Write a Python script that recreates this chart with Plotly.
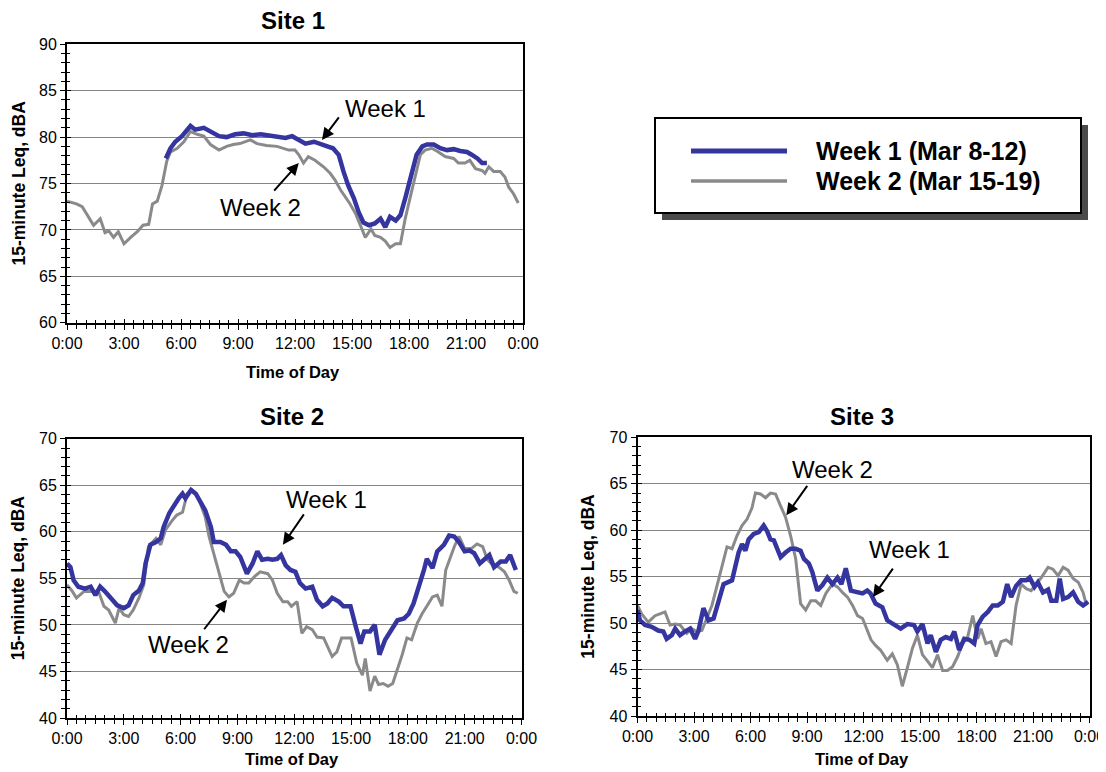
import plotly.graph_objects as go

# ---------------- data (hours of day, 15-minute Leq dBA) ----------------
s1_w1_t = [5.2, 5.45, 5.7, 6.05, 6.5, 6.75, 7.2, 7.55, 8.0, 8.4, 8.85, 9.3, 9.75, 10.2, 10.6, 11.05,
           11.5, 11.85, 12.2, 12.55, 13.0, 13.35, 13.7, 14.0, 14.3, 14.55, 14.8, 15.1, 15.35, 15.6,
           15.9, 16.2, 16.5, 16.75, 17.0, 17.3, 17.55, 17.8, 18.05, 18.4, 18.7, 18.95, 19.3, 19.65,
           20.0, 20.35, 20.7, 21.05, 21.3, 21.6, 21.85, 22.1]
s1_w1_v = [77.7, 78.8, 79.5, 80.1, 81.2, 80.8, 81.0, 80.6, 80.1, 80.0, 80.3, 80.4, 80.2, 80.3, 80.2, 80.1,
           79.9, 80.1, 79.7, 79.3, 79.5, 79.2, 79.0, 78.8, 78.1, 76.3, 74.8, 73.4, 71.9, 70.8,
           70.5, 70.7, 71.2, 70.3, 71.4, 71.0, 71.6, 73.4, 75.5, 78.1, 79.0, 79.2, 79.2, 78.8,
           78.6, 78.7, 78.5, 78.4, 78.1, 77.7, 77.2, 77.2]

s1_w2_t = [0.0, 0.5, 0.8, 1.05, 1.4, 1.75, 2.0, 2.2, 2.45, 2.7, 3.0, 3.35, 3.7, 4.0, 4.3, 4.5, 4.75,
           5.0, 5.25, 5.45, 5.8, 6.15, 6.5, 6.85, 7.2, 7.55, 8.0, 8.4, 8.75, 9.1, 9.65, 10.0, 10.5,
           11.05, 11.4, 11.67, 12.0, 12.2, 12.45, 12.7, 13.05, 13.5, 13.85, 14.1, 14.4, 14.65, 14.9,
           15.2, 15.45, 15.7, 16.0, 16.2, 16.5, 16.75, 17.0, 17.3, 17.55, 17.8, 18.05, 18.3, 18.6,
           18.85, 19.2, 19.55, 19.9, 20.35, 20.6, 20.95, 21.2, 21.5, 21.85, 22.0, 22.2, 22.45, 22.8,
           23.05, 23.25, 23.5, 23.75]
s1_w2_v = [73.1, 72.8, 72.5, 71.6, 70.5, 71.2, 69.7, 69.9, 69.2, 69.8, 68.5, 69.2, 69.8, 70.5, 70.6, 72.8, 73.1,
           74.8, 77.4, 78.4, 78.8, 79.5, 80.6, 80.3, 80.1, 79.2, 78.6, 79.0, 79.2, 79.3, 79.7, 79.3, 79.1,
           79.0, 78.8, 78.6, 78.6, 78.1, 77.2, 77.9, 77.5, 76.8, 76.1, 75.4, 74.3, 73.6, 72.8,
           71.7, 70.5, 69.2, 70.1, 69.4, 69.2, 68.8, 68.1, 68.5, 68.5, 71.2, 73.4, 75.5, 78.1,
           78.6, 78.8, 78.4, 77.9, 77.7, 77.2, 77.2, 77.5, 76.6, 76.4, 76.1, 76.8, 76.3, 76.3,
           75.7, 74.6, 73.9, 72.9]

s2_w1_t = [0.0, 0.18, 0.35, 0.6, 0.95, 1.25, 1.5, 1.75, 2.0, 2.3, 2.65, 3.0, 3.25, 3.5, 3.8, 4.0, 4.15,
           4.4, 4.7, 4.95, 5.1, 5.4, 5.65, 5.9, 6.1, 6.25, 6.55, 6.8, 7.05, 7.3, 7.6, 7.75, 8.1, 8.4,
           8.65, 8.9, 9.15, 9.5, 9.8, 10.05, 10.3, 10.6, 10.85, 11.1, 11.3, 11.55, 11.8, 12.06, 12.3,
           12.6, 12.95, 13.2, 13.5, 13.75, 14.0, 14.35, 14.6, 14.97, 15.25, 15.5, 15.7, 16.0, 16.25,
           16.5, 16.8, 17.1, 17.45, 17.8, 18.05, 18.3, 18.6, 18.85, 19.0, 19.3, 19.55, 19.9, 20.18,
           20.45, 20.7, 21.0, 21.25, 21.5, 21.8, 22.0, 22.3, 22.55, 22.9, 23.17, 23.4, 23.7]
s2_w1_v = [56.6, 56.2, 54.8, 54.1, 53.9, 54.1, 53.2, 54.1, 53.6, 52.9, 52.1, 51.8, 52.1, 53.2, 53.7, 54.5, 56.6,
           58.6, 58.9, 59.3, 60.5, 62.0, 62.9, 63.6, 64.1, 63.6, 64.5, 64.1, 63.2, 62.3, 60.5, 58.9, 58.9, 58.6,
           57.9, 57.9, 57.3, 55.5, 56.6, 57.9, 57.0, 57.1, 57.0, 57.1, 57.5, 56.4, 55.9, 55.7, 54.5,
           53.9, 54.1, 52.7, 52.0, 52.3, 52.9, 52.5, 52.0, 52.0, 49.8, 48.0, 49.3, 49.3, 50.0,
           46.8, 48.4, 49.3, 50.5, 50.7, 51.2, 52.3, 54.1, 55.9, 57.1, 56.1, 57.9, 58.6, 59.6,
           59.5, 58.9, 57.9, 58.0, 57.7, 56.6, 57.0, 57.5, 56.2, 56.8, 56.8, 57.5, 55.9]

s2_w2_t = [0.0, 0.25, 0.5, 0.9, 1.15, 1.4, 1.7, 1.95, 2.2, 2.55, 2.75, 3.0, 3.25, 3.5, 3.8, 4.05, 4.3,
           4.7, 4.95, 5.2, 5.55, 5.8, 6.1, 6.35, 6.6, 6.8, 7.05, 7.3, 7.5, 7.75, 8.0, 8.3, 8.55, 8.8,
           9.1, 9.35, 9.6, 9.9, 10.2, 10.6, 10.85, 11.1, 11.4, 11.65, 11.85, 12.15, 12.4, 12.65,
           12.95, 13.2, 13.55, 14.0, 14.25, 14.5, 14.8, 15.0, 15.3, 15.6, 15.75, 16.0, 16.25, 16.45,
           16.7, 16.95, 17.2, 17.45, 17.7, 17.95, 18.2, 18.5, 18.75, 19.0, 19.3, 19.55, 19.8, 20.0,
           20.25, 20.45, 20.7, 21.0, 21.35, 21.65, 21.95, 22.2, 22.5, 22.8, 23.1, 23.35, 23.6, 23.8]
s2_w2_v = [54.3, 53.7, 52.9, 53.6, 53.6, 53.6, 53.4, 52.0, 51.6, 50.2, 51.8, 51.1, 50.9, 51.6, 52.9, 54.3, 58.4,
           59.3, 58.6, 60.2, 61.2, 61.8, 62.1, 64.1, 64.5, 64.1, 63.0, 61.6, 59.5, 57.7, 55.9, 53.6, 53.0, 53.4,
           54.8, 54.5, 54.5, 55.2, 55.7, 55.5, 54.8, 53.4, 52.5, 52.5, 52.0, 52.5, 49.1, 49.8,
           49.5, 48.7, 48.6, 46.6, 47.1, 48.6, 48.6, 48.6, 45.9, 44.6, 46.4, 42.9, 44.5, 43.6,
           43.7, 43.4, 43.7, 45.2, 46.8, 48.6, 48.4, 50.2, 51.2, 52.0, 53.0, 53.2, 52.0, 55.9,
           57.3, 58.4, 59.5, 58.2, 58.2, 58.7, 58.4, 57.0, 56.4, 56.2, 55.7, 54.8, 53.6, 53.4]

s3_w1_t = [0.0, 0.13, 0.4, 0.75, 1.1, 1.37, 1.55, 1.82, 2.0, 2.26, 2.53, 2.8, 3.06, 3.24, 3.5, 3.77, 4.04,
           4.3, 4.57, 5.02, 5.2, 5.37, 5.55, 5.73, 5.9, 6.17, 6.44, 6.7, 6.88, 7.06, 7.24, 7.42, 7.6,
           7.86, 8.13, 8.4, 8.66, 8.84, 9.1, 9.28, 9.55, 9.82, 10.08, 10.35, 10.62, 10.83, 11.06, 11.33,
           11.68, 11.95, 12.2, 12.37, 12.64, 13.0, 13.26, 13.62, 13.97, 14.33, 14.68, 14.86, 15.13, 15.4,
           15.57, 15.84, 16.1, 16.37, 16.64, 16.82, 17.08, 17.35, 17.62, 17.88, 18.06, 18.33, 18.6, 18.86,
           19.13, 19.4, 19.63, 19.84, 20.1, 20.37, 20.64, 20.82, 21.08, 21.26, 21.53, 21.8, 21.97, 22.24,
           22.42, 22.6, 22.86, 23.13, 23.4, 23.66, 23.93]
s3_w1_v = [51.4, 50.3, 49.8, 49.6, 49.2, 49.1, 48.3, 48.7, 49.4, 48.7, 49.1, 49.4, 48.3, 49.2, 51.6, 50.3, 50.5,
           52.3, 54.2, 54.6, 56.2, 57.6, 58.5, 57.8, 59.0, 59.6, 59.8, 60.5, 59.9, 59.0, 58.9, 58.0, 57.1,
           57.6, 58.0, 58.0, 57.8, 56.9, 56.4, 55.5, 53.5, 54.1, 54.9, 54.2, 54.9, 54.2, 55.9, 53.5,
           53.3, 53.2, 53.5, 53.2, 52.1, 51.7, 50.3, 49.9, 49.4, 49.9, 49.8, 49.1, 49.9, 47.8,
           48.7, 46.9, 48.2, 48.5, 48.3, 49.1, 47.1, 48.3, 48.2, 47.8, 49.8, 50.7, 51.2, 51.9,
           51.9, 52.3, 54.2, 52.8, 54.0, 54.6, 54.6, 54.9, 53.9, 54.4, 53.3, 53.6, 52.4, 52.4,
           54.8, 52.6, 52.8, 53.3, 52.3, 51.9, 52.3]

s3_w2_t = [0.0, 0.22, 0.57, 0.93, 1.19, 1.46, 1.73, 2.0, 2.26, 2.62, 2.88, 3.15, 3.42, 3.68, 3.95, 4.22,
           4.48, 4.75, 5.02, 5.28, 5.55, 5.82, 6.08, 6.26, 6.53, 6.8, 7.06, 7.33, 7.6, 7.86, 8.13, 8.4,
           8.66, 8.93, 9.2, 9.46, 9.73, 10.0, 10.35, 10.62, 10.88, 11.15, 11.42, 11.68, 11.95, 12.2,
           12.4, 12.64, 12.9, 13.26, 13.53, 13.8, 14.06, 14.33, 14.6, 14.86, 15.13, 15.4, 15.66, 15.93,
           16.2, 16.46, 16.73, 17.0, 17.26, 17.53, 17.8, 18.06, 18.24, 18.5, 18.77, 19.04, 19.3, 19.57,
           19.84, 20.1, 20.37, 20.64, 20.9, 21.17, 21.44, 21.8, 22.06, 22.33, 22.6, 22.86, 23.13, 23.4,
           23.66, 23.84]
s3_w2_v = [51.9, 51.0, 50.1, 50.8, 51.0, 51.2, 49.8, 49.9, 49.8, 48.9, 49.4, 49.1, 49.2, 50.5, 51.9, 54.0,
           56.2, 58.2, 58.0, 59.4, 60.5, 61.2, 62.4, 64.0, 63.9, 63.5, 64.0, 63.9, 62.6, 61.4, 59.4, 56.9,
           52.1, 51.4, 52.4, 52.4, 51.9, 53.2, 54.2, 53.9, 53.3, 52.8, 51.9, 50.8, 50.5, 49.1,
           48.2, 47.6, 47.1, 46.0, 46.7, 45.5, 43.2, 45.2, 47.3, 48.7, 46.6, 45.9, 45.2, 46.6,
           44.9, 44.9, 45.3, 46.4, 47.8, 48.5, 50.8, 48.3, 49.4, 47.8, 48.0, 46.4, 48.0, 48.2,
           47.8, 51.9, 54.2, 53.7, 53.5, 54.2, 54.9, 56.0, 55.8, 55.1, 56.0, 55.7, 54.8, 54.4,
           53.3, 51.9]

tick_hours = [0, 3, 6, 9, 12, 15, 18, 21, 24]
tick_labels = ["0:00", "3:00", "6:00", "9:00", "12:00", "15:00", "18:00", "21:00", "0:00"]
site_titles = ["Site 1", "Site 2", "Site 3"]
series_names = ["Week 1 (Mar 8-12)", "Week 2 (Mar 15-19)"]
y_ranges = [[60, 90], [40, 70], [40, 70]]

BLUE = "#3535a0"
GRAY = "#8a8a8c"
FONT = "Arial, Liberation Sans, sans-serif"
W, H = 1106, 772
PAGE_OFF = 8  # default body margin of the html page


def px(x):
    return (x - PAGE_OFF) / W


def py(y):
    return 1 - (y - PAGE_OFF) / H


fig = go.Figure()

# subplot geometry in screen pixels: (left, right, top, bottom)
boxes = [(67, 523, 44.3, 322.7), (67, 521.5, 438.7, 718.0), (637.5, 1089.5, 437.3, 716.0)]

series = [
    (s1_w2_t, s1_w2_v, s1_w1_t, s1_w1_v),
    (s2_w2_t, s2_w2_v, s2_w1_t, s2_w1_v),
    (s3_w2_t, s3_w2_v, s3_w1_t, s3_w1_v),
]

for i, (t2, v2, t1, v1) in enumerate(series):
    xa = "x" if i == 0 else f"x{i+1}"
    ya = "y" if i == 0 else f"y{i+1}"
    fig.add_trace(go.Scatter(x=t2, y=v2, mode="lines", line=dict(color=GRAY, width=3),
                             name=series_names[1], showlegend=False, xaxis=xa, yaxis=ya,
                             hoverinfo="skip"))
    fig.add_trace(go.Scatter(x=t1, y=v1, mode="lines", line=dict(color=BLUE, width=4.5),
                             name=series_names[0], showlegend=False, xaxis=xa, yaxis=ya,
                             hoverinfo="skip"))
    # overlay axes for inside ticks (ticks crossing the frame)
    fig.add_trace(go.Scatter(x=[], y=[], xaxis=f"x{i+4}", yaxis=ya, showlegend=False))
    fig.add_trace(go.Scatter(x=[], y=[], xaxis=xa, yaxis=f"y{i+4}", showlegend=False))

layout = dict(
    width=W, height=H,
    margin=dict(l=0, r=0, t=0, b=0, autoexpand=False),
    paper_bgcolor="white", plot_bgcolor="white",
    font=dict(family=FONT, color="black", size=16),
    showlegend=False,
)

for i, (l, r, t, b) in enumerate(boxes):
    xk = "xaxis" if i == 0 else f"xaxis{i+1}"
    yk = "yaxis" if i == 0 else f"yaxis{i+1}"
    xa = "x" if i == 0 else f"x{i+1}"
    ya = "y" if i == 0 else f"y{i+1}"
    dx = [px(l), px(r)]
    dy = [py(b), py(t)]
    layout[xk] = dict(domain=dx, anchor=ya, range=[0, 24], tickmode="array", automargin=False,
                      tickvals=tick_hours, ticktext=tick_labels, ticks="outside", ticklen=5,
                      tickwidth=1, tickcolor="black", showgrid=False, zeroline=False,
                      showline=True, linecolor="black", linewidth=2, mirror=True,
                      tickfont=dict(size=16, family=FONT),
                      minor=dict(tickmode="linear", tick0=0, dtick=0.5, ticks="outside",
                                 ticklen=4, tickcolor="black", tickwidth=1, showgrid=False))
    layout[yk] = dict(domain=dy, anchor=xa, range=y_ranges[i], tickmode="linear", automargin=False,
                      tick0=y_ranges[i][0], dtick=5, ticks="outside", ticklen=5, tickwidth=1,
                      tickcolor="black", showgrid=True, gridcolor="#858585", gridwidth=1,
                      zeroline=False, showline=True, linecolor="black", linewidth=2, mirror=True,
                      tickfont=dict(size=16, family=FONT),
                      minor=dict(tickmode="linear", tick0=0, dtick=1, ticks="outside",
                                 ticklen=4, tickcolor="black", tickwidth=1, showgrid=False))
    # overlay axes with inside ticks
    layout[f"xaxis{i+4}"] = dict(overlaying=xa, anchor=ya, range=[0, 24], tickmode="array",
                                 automargin=False,
                                 tickvals=tick_hours, showticklabels=False, ticks="inside",
                                 ticklen=4, tickcolor="black", showgrid=False, zeroline=False,
                                 showline=False, side="bottom",
                                 minor=dict(tickmode="linear", tick0=0, dtick=0.5, ticks="inside",
                                            ticklen=3, tickcolor="black", showgrid=False))
    layout[f"yaxis{i+4}"] = dict(overlaying=ya, anchor=xa, range=y_ranges[i], tickmode="linear",
                                 automargin=False,
                                 tick0=y_ranges[i][0], dtick=5, showticklabels=False,
                                 ticks="inside", ticklen=4, tickcolor="black", showgrid=False,
                                 zeroline=False, showline=False, side="left",
                                 minor=dict(tickmode="linear", tick0=0, dtick=1, ticks="inside",
                                            ticklen=3, tickcolor="black", showgrid=False))

fig.update_layout(**layout)

ann = []
# titles
for (l, r, t, b), title, ytit, ylab_x in zip(boxes, site_titles, [21, 416, 416], [18, 18, 588]):
    cx = (l + r) / 2 - 2
    ann.append(dict(text=f"<b>{title}</b>", x=px(cx), y=py(ytit), xref="paper", yref="paper",
                    showarrow=False, font=dict(size=24, family=FONT), xanchor="center",
                    yanchor="middle"))
    ann.append(dict(text="<b>Time of Day</b>", x=px(cx), y=py(min(b + 49, 759)), xref="paper",
                    yref="paper", showarrow=False, font=dict(size=16.5, family=FONT),
                    xanchor="center", yanchor="middle"))
    ann.append(dict(text="<b>15-minute Leq, dBA</b>", x=px(ylab_x), y=py((t + b) / 2),
                    xref="paper", yref="paper", showarrow=False, textangle=-90,
                    font=dict(size=17.5, family=FONT), xanchor="center", yanchor="middle"))

# week labels with arrows (data coordinates)
labels = [
    ("x", "y", "Week 1", 16.74, 83.1, 13.42, 79.7, 18, -24),
    ("x", "y", "Week 2", 10.16, 72.4, 12.2, 77.2, -26, 29),
    ("x2", "y2", "Week 1", 13.7, 63.5, 11.4, 58.6, 22, -32),
    ("x2", "y2", "Week 2", 6.4, 47.9, 8.45, 52.7, -24, 31),
    ("x3", "y3", "Week 2", 10.35, 66.5, 7.9, 61.6, 22, -31),
    ("x3", "y3", "Week 1", 14.45, 57.9, 12.5, 52.8, 21, -30),
]
for xr, yr, txt, tx, ty, hx, hy, ax, ay in labels:
    ann.append(dict(text=txt, x=tx, y=ty, xref=xr, yref=yr, showarrow=False,
                    font=dict(size=24, family=FONT), xanchor="center", yanchor="middle"))
    ann.append(dict(text="", x=hx, y=hy, xref=xr, yref=yr, showarrow=True, ax=ax, ay=ay,
                    arrowhead=2, arrowsize=1.2, arrowwidth=2, arrowcolor="black"))

# legend text
ann.append(dict(text=f"<b>{series_names[0]}</b>", x=px(814), y=py(151), xref="paper", yref="paper",
                showarrow=False, font=dict(size=25, family=FONT), xanchor="left", yanchor="middle"))
ann.append(dict(text=f"<b>{series_names[1]}</b>", x=px(814), y=py(181), xref="paper", yref="paper",
                showarrow=False, font=dict(size=25, family=FONT), xanchor="left", yanchor="middle"))

shapes = [
    dict(type="rect", xref="paper", yref="paper", x0=px(662), x1=px(1088), y0=py(220), y1=py(125),
         fillcolor="#4a4a4a", line=dict(width=0), layer="above"),
    dict(type="rect", xref="paper", yref="paper", x0=px(655), x1=px(1081), y0=py(213), y1=py(118),
         fillcolor="white", line=dict(color="black", width=2), layer="above"),
    dict(type="line", xref="paper", yref="paper", x0=px(691), x1=px(787), y0=py(151), y1=py(151),
         line=dict(color=BLUE, width=5), layer="above"),
    dict(type="line", xref="paper", yref="paper", x0=px(691), x1=px(787), y0=py(181), y1=py(181),
         line=dict(color=GRAY, width=3.5), layer="above"),
]

fig.update_layout(annotations=ann, shapes=shapes)
fig.write_html("out.html")
